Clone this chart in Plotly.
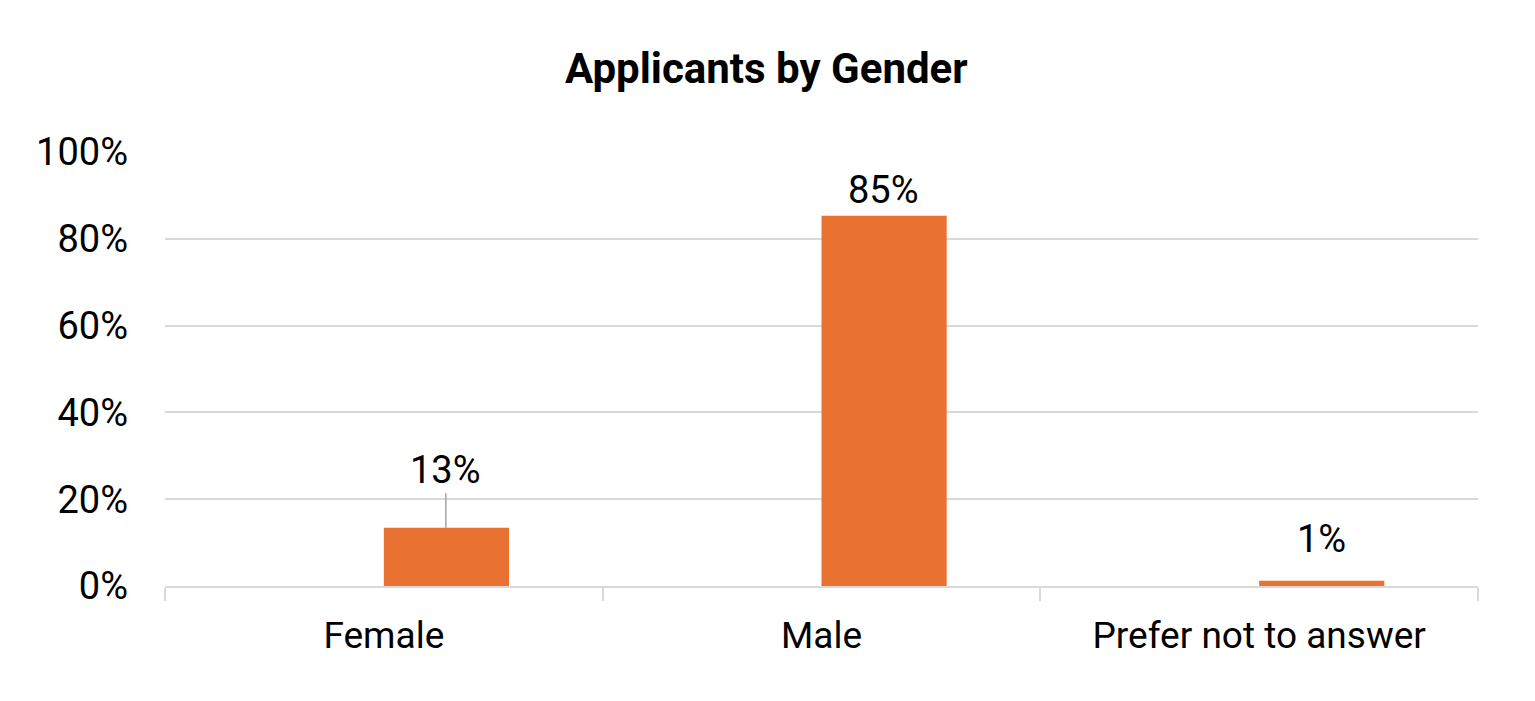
import plotly.graph_objects as go

# applicants share by gender
genders = ['Female', 'Male', 'Prefer not to answer']
share = [0.134, 0.853, 0.012]
labels = ['13%', '85%', '1%']

bar_color = '#E97132'
grid_color = '#D9D9D9'
font_name = 'Roboto'

# bars sit to the right of the category centre, like excel with an empty series
bar_w = 0.286
half_px = 62

fig = go.Figure()
fig.add_trace(go.Bar(x=genders, y=share, marker_color=bar_color,
                     marker_line_width=0, width=bar_w, offset=0, hoverinfo='skip'))

# data labels: the female one sits higher with a leader line
fig.add_annotation(x=genders[0], y=share[0], text=labels[0], showarrow=True,
                   ax=0, ay=-58, xshift=half_px, arrowhead=0, arrowwidth=1.5,
                   arrowcolor='#A6A6A6',
                   font=dict(size=38, color='black', family=font_name))
fig.add_annotation(x=genders[1], y=share[1], text=labels[1], showarrow=False,
                   yanchor='bottom', yshift=2, xshift=half_px,
                   font=dict(size=38, color='black', family=font_name))
fig.add_annotation(x=genders[2], y=share[2], text=labels[2], showarrow=False,
                   yanchor='bottom', yshift=18, xshift=half_px,
                   font=dict(size=38, color='black', family=font_name))

fig.update_layout(
    width=1535, height=701,
    paper_bgcolor='white', plot_bgcolor='white',
    margin=dict(l=157, r=65, t=144, b=123),
    showlegend=False,
    font=dict(family=font_name, size=38, color='black'),
    title=dict(text='<b>Applicants by Gender</b>', x=0.494, xanchor='center',
               y=0.914, yanchor='middle', font=dict(size=42, color='black')),
)
fig.update_yaxes(range=[0, 1], tickvals=[0, 0.2, 0.4, 0.6, 0.8, 1.0], tickformat='.0%',
                 showgrid=True, gridcolor=grid_color, gridwidth=2, zeroline=False,
                 showline=False, ticks='', ticklabelstandoff=36, fixedrange=True)
fig.update_xaxes(showline=True, linecolor=grid_color, linewidth=2,
                 ticks='outside', tickson='boundaries', ticklen=13, tickwidth=2,
                 tickcolor=grid_color, showgrid=False, ticklabelstandoff=16,
                 tickfont=dict(size=37), fixedrange=True)

fig.write_html('out.html')
